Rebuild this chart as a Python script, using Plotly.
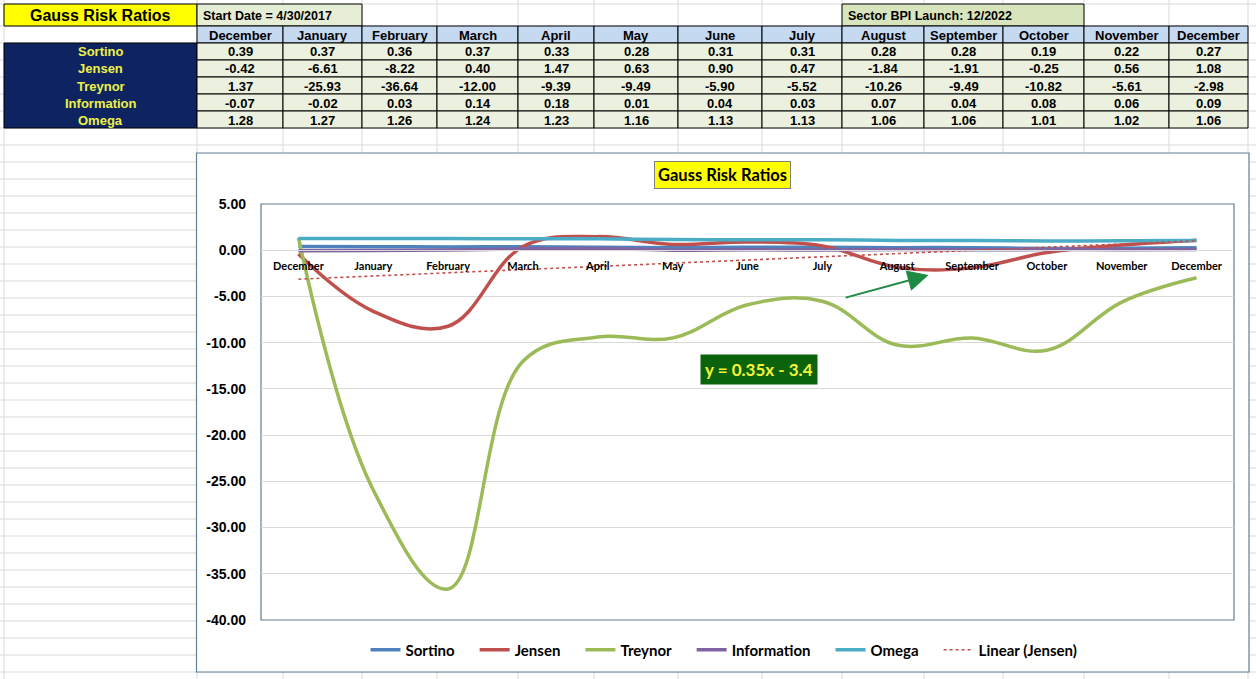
import numpy as np
import plotly.graph_objects as go

# ---------------- data ----------------
months = ["December", "January", "February", "March", "April", "May", "June",
          "July", "August", "September", "October", "November", "December"]
ratio_names = ["Sortino", "Jensen", "Treynor", "Information", "Omega"]
sortino = [0.39, 0.37, 0.36, 0.37, 0.33, 0.28, 0.31, 0.31, 0.28, 0.28, 0.19, 0.22, 0.27]
jensen = [-0.42, -6.61, -8.22, 0.40, 1.47, 0.63, 0.90, 0.47, -1.84, -1.91, -0.25, 0.56, 1.08]
treynor = [1.37, -25.93, -36.64, -12.00, -9.39, -9.49, -5.90, -5.52, -10.26, -9.49, -10.82, -5.61, -2.98]
information = [-0.07, -0.02, 0.03, 0.14, 0.18, 0.01, 0.04, 0.03, 0.07, 0.04, 0.08, 0.06, 0.09]
omega = [1.28, 1.27, 1.26, 1.24, 1.23, 1.16, 1.13, 1.13, 1.06, 1.06, 1.01, 1.02, 1.06]
y_tick_values = [5, 0, -5, -10, -15, -20, -25, -30, -35, -40]

sheet_title = "Gauss Risk Ratios"
start_note = "Start Date = 4/30/2017"
launch_note = "Sector BPI Launch: 12/2022"
chart_title = "Gauss Risk Ratios"
trend_name = "Linear (Jensen)"
trend_label = "y = 0.35x - 3.4"

# ---------------- layout helpers ----------------
W, H = 1256, 679
def px(x):
    return x / W
def py(y):
    return 1 - y / H

TABLE_FONT = "Liberation Sans, Arial, sans-serif"
CHART_FONT = "Lato, Liberation Sans, sans-serif"
GRID = "#D9D9D9"
BORDER = "#627F94"
NAVY = "#0E2461"
LEGEND_PAD = "\u2002\u2002"   # extra spacing after each legend entry

series = [sortino, jensen, treynor, information, omega]
colors = ["#4F81BD", "#C0504D", "#9BBB59", "#8064A2", "#4BACC6"]
x_idx = list(range(1, len(months) + 1))

fig = go.Figure()

# ---------------- chart traces ----------------
for name, vals, col in zip(ratio_names, series, colors):
    fig.add_trace(go.Scatter(
        x=x_idx, y=vals, name=name + LEGEND_PAD, mode="lines",
        line=dict(color=col, width=3.5, shape="spline", smoothing=1.1)))

slope, intercept = np.polyfit(x_idx, jensen, 1)
trend_y = [slope * v + intercept for v in x_idx]
fig.add_trace(go.Scatter(
    x=x_idx, y=trend_y, name=trend_name, mode="lines",
    line=dict(color="#C0504D", width=1.6, dash="dot")))

shapes = []
annotations = []

def cell_text(text, xc, yc, size=13, color="black", xanchor="center"):
    return dict(text=text, xref="paper", yref="paper", x=px(xc), y=py(yc),
                xanchor=xanchor, yanchor="middle", showarrow=False,
                font=dict(family=TABLE_FONT, size=size, color=color))

# ---------------- spreadsheet gridlines ----------------
col_edges = [4, 197, 283, 362, 437, 518, 594, 678, 762, 842, 924, 1003, 1084, 1169, 1248]
row_edges = [26, 43, 60, 77, 94, 111, 128]
h_lines = [4, 26] + list(range(43, H + 1, 17))
for yv in h_lines:
    shapes.append(dict(type="line", xref="paper", yref="paper",
                       x0=0, x1=1, y0=py(yv), y1=py(yv),
                       line=dict(color=GRID, width=1), layer="below"))
for xv in col_edges:
    shapes.append(dict(type="line", xref="paper", yref="paper",
                       x0=px(xv), x1=px(xv), y0=0, y1=1,
                       line=dict(color=GRID, width=1), layer="below"))

# ---------------- table (top row of merged cells) ----------------
shapes.append(dict(type="rect", xref="paper", yref="paper",
                   x0=px(4), x1=px(197), y0=py(26), y1=py(4),
                   fillcolor="#FFFF00", line=dict(color="black", width=1), layer="below"))
shapes.append(dict(type="rect", xref="paper", yref="paper",
                   x0=px(197), x1=px(362), y0=py(26), y1=py(4),
                   fillcolor="#E6EDD5", line=dict(color="black", width=1), layer="below"))
shapes.append(dict(type="rect", xref="paper", yref="paper",
                   x0=px(842), x1=px(1084), y0=py(26), y1=py(4),
                   fillcolor="#D8E4BC", line=dict(color="black", width=1), layer="below"))
annotations += [
    cell_text(f"<b>{sheet_title}</b>", 100.5, 15.5, size=16),
    cell_text(f"<b>{start_note}</b>", 201, 16, size=12.5, xanchor="left"),
    cell_text(f"<b>{launch_note}</b>", 846, 16, size=12.5, xanchor="left"),
]

# label column
shapes.append(dict(type="rect", xref="paper", yref="paper",
                   x0=px(col_edges[0]), x1=px(col_edges[1]),
                   y0=py(row_edges[-1]), y1=py(row_edges[1]),
                   fillcolor=NAVY, line=dict(color="black", width=1), layer="below"))
for r, name in enumerate(ratio_names):
    yc = (row_edges[r + 1] + row_edges[r + 2]) / 2
    annotations.append(cell_text(f"<b>{name}</b>", (col_edges[0] + col_edges[1]) / 2,
                                 yc + 0.5, color="#EEF04A"))

# month columns
for c, month in enumerate(months):
    x0, x1 = col_edges[c + 1], col_edges[c + 2]
    xc = (x0 + x1) / 2
    shapes.append(dict(type="rect", xref="paper", yref="paper",
                       x0=px(x0), x1=px(x1), y0=py(row_edges[1]), y1=py(row_edges[0]),
                       fillcolor="#C5D9F1", line=dict(color="black", width=1), layer="below"))
    annotations.append(cell_text(f"<b>{month}</b>", xc, (row_edges[0] + row_edges[1]) / 2 + 0.5))
    for r, s in enumerate(series):
        y0, y1 = row_edges[r + 1], row_edges[r + 2]
        shapes.append(dict(type="rect", xref="paper", yref="paper",
                           x0=px(x0), x1=px(x1), y0=py(y1), y1=py(y0),
                           fillcolor="#EBF1DE", line=dict(color="black", width=1), layer="below"))
        annotations.append(cell_text(f"<b>{s[c]:.2f}</b>", xc, (y0 + y1) / 2 + 0.5))

# ---------------- chart frame ----------------
shapes.append(dict(type="rect", xref="paper", yref="paper",
                   x0=px(196.5), x1=px(1249), y0=py(672), y1=py(153),
                   fillcolor="white", line=dict(color=BORDER, width=1.2), layer="below"))
shapes.append(dict(type="rect", xref="x domain", yref="y domain",
                   x0=0, x1=1, y0=0, y1=1,
                   line=dict(color=BORDER, width=1.2), layer="below"))

# ---------------- axes ----------------
y_dom = [py(620), py(204)]
y_rng = [min(y_tick_values), max(y_tick_values)]
zero_pos = y_dom[0] + (0 - y_rng[0]) / (y_rng[1] - y_rng[0]) * (y_dom[1] - y_dom[0])

annotations += [
    dict(text=f"<b>{chart_title}</b>", xref="paper", yref="paper",
         x=px(722), y=py(175.5), xanchor="center", yanchor="middle", showarrow=False,
         bgcolor="#FFFF00", bordercolor="#7F7F7F", borderwidth=1, borderpad=3,
         font=dict(family=CHART_FONT, size=16.5, color="black")),
    dict(text=f"<b>{trend_label}</b>", xref="x", yref="y",
         x=7.16, y=-12.85, xanchor="center", yanchor="middle", showarrow=False,
         bgcolor="#0B640B", borderpad=4,
         font=dict(family=CHART_FONT, size=17, color="#F5F53C")),
    dict(text="", xref="x", yref="y", x=9.42, y=-2.68,
         axref="x", ayref="y", ax=8.29, ay=-5.17,
         showarrow=True, arrowhead=2, arrowsize=2.1, arrowwidth=2,
         arrowcolor="#1E8B45"),
]

fig.update_layout(
    width=W, height=H,
    margin=dict(l=0, r=0, t=0, b=0, pad=0, autoexpand=False),
    paper_bgcolor="white", plot_bgcolor="white",
    shapes=shapes, annotations=annotations,
    xaxis=dict(domain=[px(261), px(1234)], range=[0.5, len(months) + 0.5],
               anchor="free", position=zero_pos, automargin=False,
               tickmode="array", tickvals=x_idx, ticktext=[f"<b>{m}</b>" for m in months],
               showgrid=False, zeroline=False, showline=True, linecolor=GRID, linewidth=1,
               ticks="", ticklabelstandoff=6,
               tickfont=dict(family=CHART_FONT, size=11, color="black")),
    yaxis=dict(domain=y_dom, range=y_rng, tickmode="array", tickvals=y_tick_values,
               ticktext=[f"<b>{v:.2f}</b>" for v in y_tick_values], automargin=False,
               showgrid=True, gridcolor=GRID, gridwidth=1, zeroline=False,
               ticks="", ticklabelstandoff=14,
               tickfont=dict(family=TABLE_FONT, size=14, color="black")),
    showlegend=True,
    legend=dict(orientation="h", x=px(724), xanchor="center", y=py(650), yanchor="middle",
                font=dict(family=CHART_FONT, size=15, color="black", weight="bold"),
                itemwidth=30, bgcolor="rgba(0,0,0,0)", traceorder="normal"),
)

fig.write_html("out.html")
